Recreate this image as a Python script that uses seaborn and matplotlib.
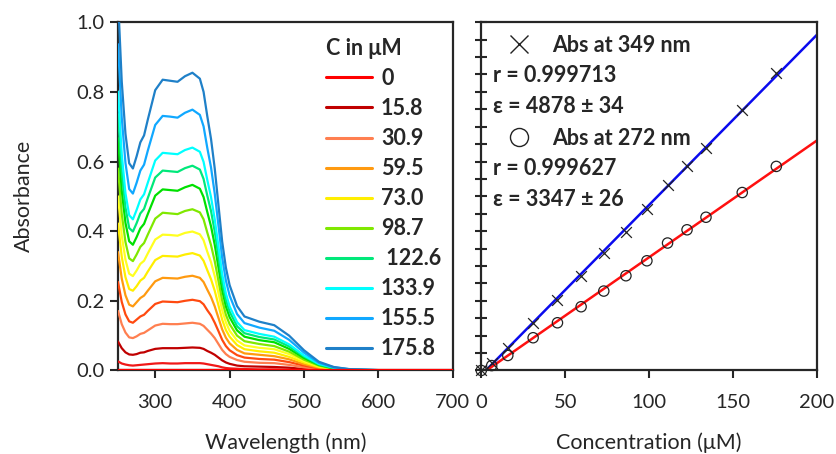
import numpy as np
import pandas as pd
import matplotlib
matplotlib.use("Agg")
import matplotlib.pyplot as plt
import seaborn as sns
from matplotlib.lines import Line2D
from matplotlib.ticker import MultipleLocator, FormatStrFormatter

# UV-vis spectra (absorbance vs wavelength) for each concentration
wavelength = [250, 255, 260, 265, 270, 275, 280, 285, 290, 300, 310, 320, 330, 340, 350, 360,
              365, 370, 375, 380, 385, 390, 395, 400, 410, 420, 440, 460, 480, 500, 520, 540,
              560, 600, 650, 700]

a_0 = [0.0, 0.0, 0.0, 0.0, 0.0, 0.0, 0.0, 0.0, 0.0, 0.0, 0.0, 0.0, 0.0, 0.0, 0.0, 0.0,
       0.0, 0.0, 0.0, 0.0, 0.0, 0.0, 0.0, 0.0, 0.0, 0.0, 0.0, 0.0, 0.0, 0.0, 0.0, 0.0,
       0.0, 0.0, 0.0, 0.0]
a_6_2 = [0.026, 0.020, 0.017, 0.015, 0.014, 0.015, 0.016, 0.017, 0.018, 0.020, 0.021, 0.020, 0.020, 0.021, 0.021, 0.021,
         0.020, 0.018, 0.016, 0.014, 0.012, 0.009, 0.007, 0.006, 0.005, 0.004, 0.003, 0.003, 0.002, 0.001, 0.0, 0.0,
         0.0, 0.0, 0.0, 0.0]
a_15_8 = [0.083, 0.064, 0.052, 0.046, 0.045, 0.047, 0.051, 0.052, 0.056, 0.062, 0.064, 0.064, 0.064, 0.065, 0.066, 0.065,
          0.062, 0.056, 0.051, 0.045, 0.037, 0.029, 0.023, 0.019, 0.014, 0.012, 0.011, 0.010, 0.008, 0.004, 0.002, 0.001,
          0.0, 0.0, 0.0, 0.0]
a_30_9 = [0.171, 0.133, 0.109, 0.095, 0.093, 0.098, 0.105, 0.108, 0.115, 0.129, 0.134, 0.133, 0.133, 0.135, 0.137, 0.134,
          0.128, 0.117, 0.106, 0.093, 0.076, 0.059, 0.047, 0.039, 0.030, 0.025, 0.022, 0.021, 0.016, 0.009, 0.004, 0.002,
          0.001, 0.0, 0.0, 0.0]
a_45_4 = [0.254, 0.197, 0.161, 0.141, 0.137, 0.146, 0.155, 0.160, 0.171, 0.191, 0.198, 0.197, 0.196, 0.200, 0.203, 0.199,
          0.190, 0.173, 0.158, 0.137, 0.113, 0.088, 0.070, 0.058, 0.044, 0.037, 0.033, 0.031, 0.024, 0.014, 0.006, 0.002,
          0.001, 0.0, 0.0, 0.0]
a_59_5 = [0.340, 0.264, 0.216, 0.189, 0.184, 0.196, 0.208, 0.215, 0.229, 0.256, 0.266, 0.265, 0.264, 0.269, 0.272, 0.266,
          0.254, 0.232, 0.211, 0.184, 0.151, 0.118, 0.094, 0.078, 0.059, 0.049, 0.045, 0.041, 0.032, 0.018, 0.008, 0.003,
          0.001, 0.0, 0.0, 0.0]
a_73_0 = [0.422, 0.327, 0.268, 0.234, 0.229, 0.242, 0.258, 0.266, 0.284, 0.317, 0.329, 0.328, 0.327, 0.333, 0.337, 0.330,
          0.315, 0.288, 0.262, 0.229, 0.187, 0.146, 0.116, 0.097, 0.073, 0.061, 0.055, 0.051, 0.039, 0.023, 0.010, 0.004,
          0.002, 0.0, 0.0, 0.0]
a_86_2 = [0.500, 0.388, 0.318, 0.278, 0.271, 0.287, 0.306, 0.315, 0.336, 0.376, 0.390, 0.389, 0.387, 0.395, 0.399, 0.391,
          0.374, 0.341, 0.311, 0.271, 0.222, 0.173, 0.138, 0.114, 0.086, 0.072, 0.065, 0.061, 0.047, 0.027, 0.012, 0.005,
          0.002, 0.0, 0.0, 0.0]
a_98_7 = [0.580, 0.450, 0.369, 0.322, 0.314, 0.333, 0.355, 0.366, 0.390, 0.436, 0.453, 0.451, 0.449, 0.458, 0.463, 0.454,
          0.434, 0.396, 0.360, 0.314, 0.257, 0.201, 0.160, 0.133, 0.100, 0.084, 0.076, 0.070, 0.054, 0.031, 0.014, 0.005,
          0.002, 0.0, 0.0, 0.0]
a_111_0 = [0.667, 0.517, 0.424, 0.371, 0.361, 0.383, 0.408, 0.421, 0.449, 0.502, 0.520, 0.518, 0.516, 0.526, 0.533, 0.522,
           0.498, 0.455, 0.414, 0.361, 0.296, 0.231, 0.184, 0.153, 0.115, 0.097, 0.087, 0.081, 0.062, 0.036, 0.016, 0.006,
           0.002, 0.0, 0.0, 0.0]
a_122_6 = [0.736, 0.571, 0.468, 0.409, 0.399, 0.423, 0.451, 0.464, 0.495, 0.554, 0.574, 0.572, 0.570, 0.581, 0.588, 0.577,
           0.550, 0.502, 0.458, 0.399, 0.327, 0.255, 0.203, 0.169, 0.127, 0.107, 0.096, 0.089, 0.069, 0.040, 0.017, 0.007,
           0.003, 0.0, 0.0, 0.0]
a_133_9 = [0.801, 0.622, 0.509, 0.446, 0.434, 0.461, 0.491, 0.506, 0.539, 0.603, 0.625, 0.623, 0.621, 0.633, 0.640, 0.628,
           0.599, 0.547, 0.498, 0.434, 0.356, 0.277, 0.221, 0.184, 0.139, 0.116, 0.105, 0.097, 0.075, 0.043, 0.019, 0.008,
           0.003, 0.001, 0.0, 0.0]
a_155_5 = [0.937, 0.727, 0.596, 0.521, 0.508, 0.539, 0.574, 0.591, 0.631, 0.705, 0.731, 0.729, 0.726, 0.740, 0.749, 0.734,
           0.701, 0.639, 0.583, 0.508, 0.416, 0.324, 0.258, 0.215, 0.162, 0.136, 0.123, 0.114, 0.088, 0.051, 0.022, 0.009,
           0.004, 0.001, 0.0, 0.0]
a_175_8 = [1.070, 0.830, 0.680, 0.595, 0.580, 0.615, 0.655, 0.675, 0.720, 0.805, 0.835, 0.832, 0.829, 0.845, 0.855, 0.838,
           0.800, 0.730, 0.665, 0.580, 0.475, 0.370, 0.295, 0.245, 0.185, 0.155, 0.140, 0.130, 0.100, 0.058, 0.025, 0.010,
           0.004, 0.001, 0.0, 0.0]

spectra = [a_0, a_6_2, a_15_8, a_30_9, a_45_4, a_59_5, a_73_0, a_86_2, a_98_7,
           a_111_0, a_122_6, a_133_9, a_155_5, a_175_8]
curve_names = ["0", "6.2", "15.8", "30.9", "45.4", "59.5", "73.0", "86.2", "98.7",
               "111.0", "122.6", "133.9", "155.5", "175.8"]
curve_colors = ["#ff0000", "#f01818", "#c00000", "#ff7f50", "#ff4a10", "#ff9a10", "#ffee00",
                "#ffff20", "#80e800", "#00e000", "#00e87a", "#00ffff", "#10a8ff", "#1f80c8"]
legend_names = ["0", "15.8", "30.9", "59.5", "73.0", "98.7", "122.6", "133.9", "155.5", "175.8"]
legend_labels = ["0", "15.8", "30.9", "59.5", "73.0", "98.7", " 122.6", "133.9", "155.5", "175.8"]

# Calibration: absorbance at two wavelengths vs concentration
conc = [0, 6.2, 15.8, 30.9, 45.4, 59.5, 73.0, 86.2, 98.7, 111.0, 122.6, 133.9, 155.5, 175.8]
abs_349 = [0, 0.021, 0.064, 0.137, 0.203, 0.272, 0.337, 0.399, 0.463, 0.533, 0.588, 0.640, 0.749, 0.854]
abs_272 = [0, 0.014, 0.043, 0.094, 0.137, 0.183, 0.228, 0.272, 0.315, 0.366, 0.404, 0.440, 0.511, 0.586]
fit_text_349 = ["r = 0.999713", "\u03b5 = 4878 \u00b1 34"]
fit_text_272 = ["r = 0.999627", "\u03b5 = 3347 \u00b1 26"]

sns.set_style("ticks")
plt.rcParams["font.family"] = ["Lato", "DejaVu Sans"]
plt.rcParams["axes.linewidth"] = 1.6

TICK_FS = 14.5
LABEL_FS = 15.5
BOLD_FS = 15.5

long_rows = []
for name, values in zip(curve_names, spectra):
    for wl, a in zip(wavelength, values):
        long_rows.append((wl, a, name))
df = pd.DataFrame(long_rows, columns=["Wavelength", "Absorbance", "C"])
palette = dict(zip(curve_names, curve_colors))

fig = plt.figure(figsize=(8.37, 4.54), dpi=100)
ax1 = fig.add_axes([0.141, 0.184, 0.400, 0.767])
ax2 = fig.add_axes([0.575, 0.184, 0.401, 0.767])

# draw the blank (0) curve last so it sits on top of the converged tails
order = curve_names[1:] + curve_names[:1]
sns.lineplot(data=df, x="Wavelength", y="Absorbance", hue="C", hue_order=order,
             palette=palette, estimator=None, sort=False, linewidth=1.6,
             legend=False, ax=ax1, zorder=3)

ax1.set_xlim(250, 700)
ax1.set_ylim(0, 1.0)
ax1.set_xticks([300, 400, 500, 600, 700])
ax1.set_yticks([0.0, 0.2, 0.4, 0.6, 0.8, 1.0])
ax1.yaxis.set_major_formatter(FormatStrFormatter("%.1f"))
ax1.tick_params(direction="out", length=6, width=1.5, labelsize=TICK_FS, pad=4)
ax1.tick_params(axis="x", pad=11)
ax1.set_xlabel("Wavelength (nm)", fontsize=LABEL_FS, labelpad=15)
ax1.set_ylabel("Absorbance", fontsize=LABEL_FS, labelpad=30)
for sp in ax1.spines.values():
    sp.set_visible(True)
    sp.set_linewidth(1.6)

handles = [Line2D([], [], color=palette[n], linewidth=2.2) for n in legend_names]
leg = ax1.legend(handles, legend_labels, title="C in \u03bcM", loc="upper left",
                 bbox_to_anchor=(0.621, 0.955), frameon=False, borderpad=0, borderaxespad=0,
                 handlelength=2.14, handletextpad=0.42, labelspacing=0.42,
                 prop={"weight": "bold", "size": BOLD_FS}, alignment="left")
leg.get_title().set_fontweight("bold")
leg.get_title().set_fontsize(BOLD_FS)

# right panel: calibration points and linear fits
cal = pd.DataFrame({"conc": conc, "a349": abs_349, "a272": abs_272})
ax2.set_xlim(0, 200)
ax2.set_ylim(0, 1.0)
sns.regplot(data=cal, x="conc", y="a349", scatter=False, ci=None, truncate=False,
            line_kws={"color": "#0a0aee", "linewidth": 1.8}, ax=ax2)
sns.regplot(data=cal, x="conc", y="a272", scatter=False, ci=None, truncate=False,
            line_kws={"color": "#ff1010", "linewidth": 1.8}, ax=ax2)
sns.scatterplot(data=cal, x="conc", y="a349", marker="x", s=60, color="#222222",
                linewidth=0.9, ax=ax2, zorder=4, clip_on=False)
sns.scatterplot(data=cal, x="conc", y="a272", marker="o", s=55, facecolor="none",
                edgecolor="#222222", linewidth=0.9, ax=ax2, zorder=4, clip_on=False)

ax2.set_xticks([0, 50, 100, 150, 200])
ax2.set_yticks([0.0, 0.2, 0.4, 0.6, 0.8, 1.0])
ax2.yaxis.set_minor_locator(MultipleLocator(0.05))
ax2.set_yticklabels([])
ax2.tick_params(axis="y", which="both", direction="inout", length=8, width=1.5)
ax2.tick_params(axis="x", direction="out", length=6, width=1.5, labelsize=TICK_FS, pad=11)
ax2.set_xlabel("Concentration (\u03bcM)", fontsize=LABEL_FS, labelpad=15)
ax2.set_ylabel("")
for sp in ax2.spines.values():
    sp.set_visible(True)
    sp.set_linewidth(1.6)

key = [Line2D([], [], marker="x", linestyle="none", color="#222222", markersize=13, markeredgewidth=1.0),
       Line2D([], [], marker="o", linestyle="none", markerfacecolor="none", markeredgecolor="#222222",
              markersize=13, markeredgewidth=1.0)]
leg2 = ax2.legend(key, ["Abs at 349 nm", "Abs at 272 nm"], loc="upper left",
                  bbox_to_anchor=(0.068, 0.964), frameon=False, borderpad=0, borderaxespad=0,
                  handlelength=1.4, handletextpad=0.84, labelspacing=3.34,
                  prop={"weight": "bold", "size": BOLD_FS})
for txt, y in zip(fit_text_349 + fit_text_272, [0.846, 0.758, 0.579, 0.491]):
    ax2.text(0.036, y, txt, transform=ax2.transAxes, fontsize=BOLD_FS, fontweight="bold", va="center")

fig.savefig("out.png", dpi=100)
